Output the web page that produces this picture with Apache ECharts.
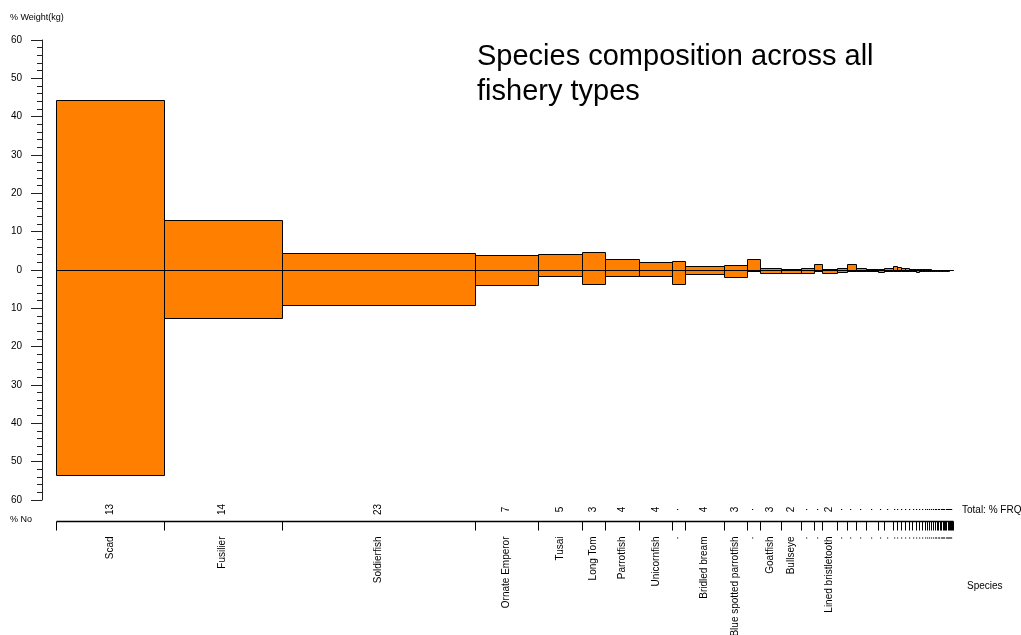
<!DOCTYPE html>
<html>
<head>
<meta charset="utf-8">
<script src="https://cdn.jsdelivr.net/npm/echarts@6/dist/echarts.min.js"></script>
<style>html,body{margin:0;padding:0;background:#fff;}#c{width:1021px;height:635px;}</style>
</head>
<body>
<div id="c"></div>
<script>
// ---- data ----
const speciesNames = ['Scad','Fusilier','Soldierfish','Ornate Emperor','Tusai','Long Tom','Parrotfish','Unicornfish','·','Bridled bream','Blue spotted parrotfish','·','Goatfish','Bullseye','·','·','Lined bristletooth',
  '·','·','·','·','·','·',
  '·','·','·','·','·','·','·','·','·','·','·','·','·','·','·','·','·','·','·','·','·','·','·','·','·','·','·','·'];
const frqLabels = ['13','14','23','7','5','3','4','4','·','4','3','·','3','2','·','·','2',
  '·','·','·','·','·','·',
  '·','·','·','·','·','·','·','·','·','·','·','·','·','·','·','·','·','·','·','·','·','·','·','·','·','·','·','·'];
const frqWidth = [12.8,14.0,23.0,7.4,5.3,2.7,4.1,3.9,1.5,4.6,2.8,1.5,2.5,2.4,1.5,1.0,1.8,
  1.2,1.0,1.2,1.4,0.8,1.0,
  0.47,0.47,0.47,0.47,0.41,0.41,0.36,0.36,0.36,0.30,0.24,0.24,0.24,0.24,0.19,0.19,0.17,0.17,0.15,0.15,0.15,0.15,0.14,0.14,0.14,0.13,0.12,0.12];
const weightPct = [44.4,13.0,4.4,3.9,4.1,4.6,3.0,2.0,2.3,1.0,1.3,2.9,0.4,0.2,0.4,1.5,0.2,
  0.4,1.5,0.4,0.2,0.2,0.4,
  1.0,0.9,0.5,0.4,0.3,0.3,0.2,0.2,0.2,0.2,0.15,0.15,0.1,0.1,0.1,0.1,0.1,0.1,0.08,0.08,0.05,0.05,0.05,0.05,0.05,0.05,0.05,0.05];
const numberPct = [53.5,12.5,9.1,3.9,1.5,3.7,1.5,1.5,3.7,1.1,1.7,0.3,0.9,0.9,0.9,0.3,0.7,
  0.4,0.2,0.2,0.2,0.6,0.2,
  0.3,0.3,0.3,0.3,0.2,0.2,0.5,0.2,0.3,0.2,0.2,0.2,0.2,0.2,0.2,0.2,0.2,0.2,0.2,0.2,0.2,0.2,0.2,0.2,0.1,0.1,0.1,0.1];
const yTicks = [-60,-50,-40,-30,-20,-10,0,10,20,30,40,50,60];

// ---- build ----
let cum = 0;
const barData = frqWidth.map((w, i) => {
  const s = cum; cum += w;
  return [s, cum, weightPct[i], numberPct[i], i];
});
const total = cum;
const FONT = '"Liberation Sans", Arial, sans-serif';
const yMin = yTicks[0], yMax = yTicks[yTicks.length - 1];

const chart = echarts.init(document.getElementById('c'), null, {renderer: 'canvas'});
chart.setOption({
  animation: false,
  backgroundColor: '#fff',
  title: {
    text: 'Species composition across all\nfishery types',
    left: 472, top: 34,
    textStyle: {fontFamily: FONT, fontSize: 29, fontWeight: 'normal', color: '#000', lineHeight: 35}
  },
  graphic: [
    {type: 'text', left: 10, top: 13, style: {text: '% Weight(kg)', font: '9px ' + FONT, fill: '#000'}},
    {type: 'text', left: 10, top: 515, style: {text: '% No', font: '9px ' + FONT, fill: '#000'}},
    {type: 'text', left: 962, top: 505, style: {text: 'Total: % FRQ', font: '10px ' + FONT, fill: '#000'}},
    {type: 'text', left: 967, top: 581, style: {text: 'Species', font: '10px ' + FONT, fill: '#000'}}
  ],
  grid: [
    {left: 56, right: 1021 - 953, top: 40, bottom: 635 - 500, containLabel: false},
    {left: 42, width: 2, top: 40, bottom: 635 - 500, containLabel: false}
  ],
  xAxis: [
    {type: 'value', gridIndex: 0, min: 0, max: total, show: false},
    {type: 'value', gridIndex: 1, min: 0, max: 1, show: false}
  ],
  yAxis: [
    {type: 'value', gridIndex: 0, min: yMin, max: yMax, interval: 10, show: false},
    {
      type: 'value', gridIndex: 1, min: yMin, max: yMax, interval: 10,
      axisLine: {show: true, lineStyle: {color: '#222', width: 1}},
      axisTick: {show: true, length: 11, lineStyle: {color: '#222'}},
      minorTick: {show: true, splitNumber: 5, length: 5, lineStyle: {color: '#222'}},
      splitLine: {show: false},
      axisLabel: {margin: 20, color: '#000', fontSize: 10, fontFamily: FONT,
        formatter: v => String(Math.abs(v))}
    }
  ],
  series: [
    {
      type: 'custom',
      xAxisIndex: 0, yAxisIndex: 0,
      clip: false,
      data: barData,
      renderItem: function (params, api) {
        const i = params.dataIndex;
        const x0 = api.value(0), x1 = api.value(1), w = api.value(2), n = api.value(3);
        const pTop = api.coord([x0, w]);
        const pBot = api.coord([x1, -n]);
        const axisY = Math.round(api.coord([0, yMin])[1]) + 21.5;
        const left = Math.round(pTop[0]) + 0.5, right = Math.round(pBot[0]) + 0.5;
        const cx = (pTop[0] + pBot[0]) / 2;
        const children = [
          {type: 'rect', shape: {x: left, y: Math.round(pTop[1]) + 0.5, width: right - left, height: Math.round(pBot[1]) - Math.round(pTop[1])},
           style: {fill: '#FF8000', stroke: '#000', lineWidth: 1}},
          {type: 'line', shape: {x1: left, y1: axisY, x2: left, y2: axisY + 9}, style: {stroke: '#000', lineWidth: 1}},
          {type: 'text', x: cx, y: axisY - 12, rotation: Math.PI / 2,
           style: {text: frqLabels[i], x: 0, y: 0, align: 'center', verticalAlign: 'middle', font: '10px ' + FONT, fill: '#000'}},
          {type: 'text', x: cx, y: axisY + 15, rotation: Math.PI / 2,
           style: {text: speciesNames[i], x: 0, y: 0, align: 'right', verticalAlign: 'middle', font: '10px ' + FONT, fill: '#000'}}
        ];
        if (i === barData.length - 1) {
          children.push({type: 'line', shape: {x1: right, y1: axisY, x2: right, y2: axisY + 9}, style: {stroke: '#000', lineWidth: 1}});
        }
        return {type: 'group', children: children};
      }
    },
    {
      type: 'custom',
      xAxisIndex: 0, yAxisIndex: 0,
      clip: false,
      z: 5,
      data: [[0, total]],
      renderItem: function (params, api) {
        const a = api.coord([api.value(0), 0]);
        const b = api.coord([api.value(1), 0]);
        const axisY = Math.round(api.coord([0, yMin])[1]) + 21.5;
        const zy = Math.round(a[1]) + 0.5;
        return {type: 'group', children: [
          {type: 'line', shape: {x1: Math.round(a[0]) + 0.5, y1: zy, x2: Math.round(b[0]) + 0.5, y2: zy}, style: {stroke: '#000', lineWidth: 1}},
          {type: 'line', shape: {x1: Math.round(a[0]) + 0.5, y1: axisY, x2: Math.round(b[0]) + 0.5, y2: axisY}, style: {stroke: '#000', lineWidth: 1.5}}
        ]};
      }
    }
  ]
});
</script>
</body>
</html>
